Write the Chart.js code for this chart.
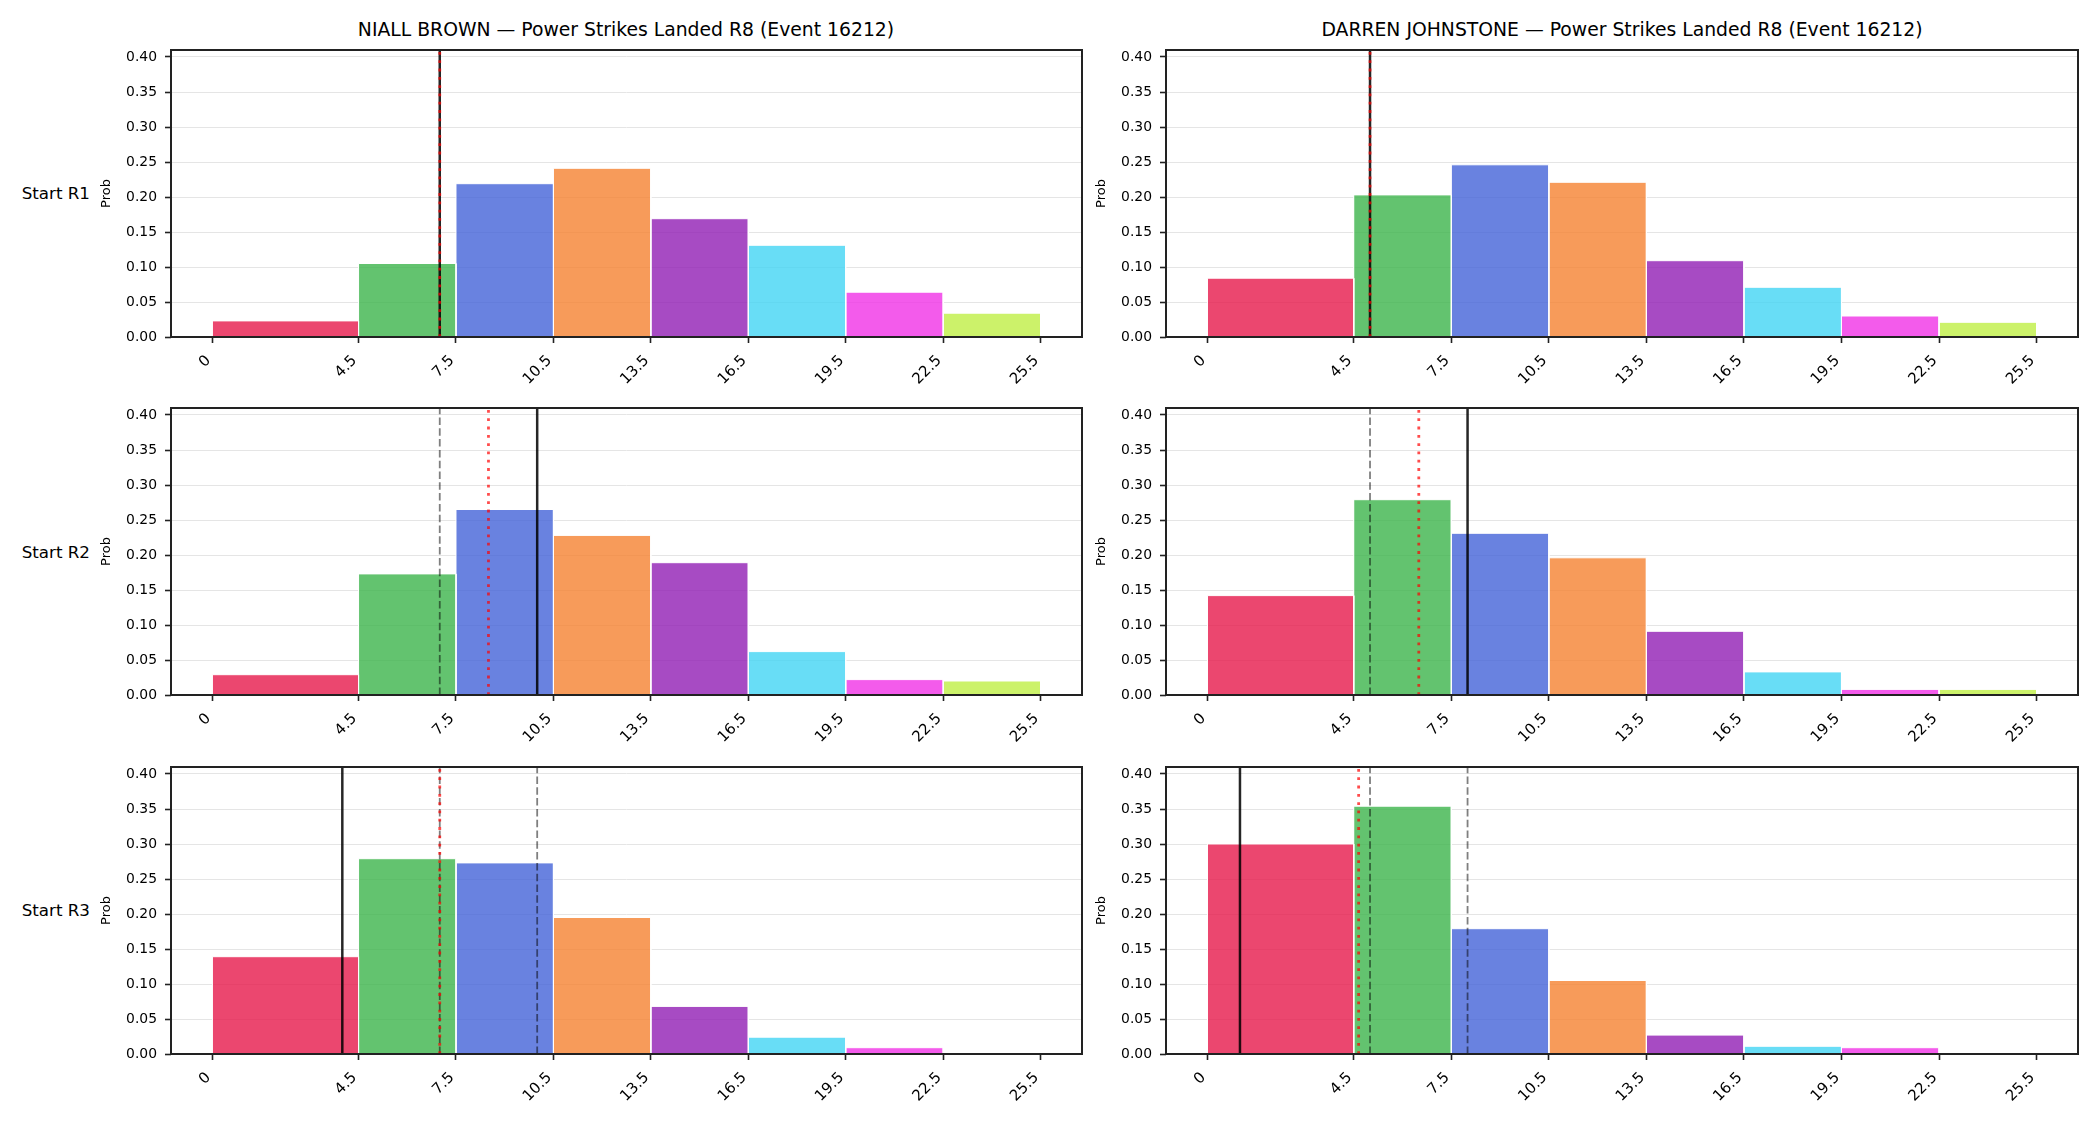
<!DOCTYPE html>
<html lang="en">
<head>
<meta charset="UTF-8">
<title>Power Strikes Landed R8 (Event 16212)</title>
<script src="https://cdn.jsdelivr.net/npm/chart.js"></script>
<style>
    body {
        margin: 0;
        width: 2100px;
        height: 1125px;
        background: #fff;
        position: relative;
        overflow: hidden;
        font-family: 'DejaVu Sans', sans-serif;
        color: #000;
    }
    canvas { position: absolute; }
    .title {
        position: absolute;
        top: 19px;
        font-size: 18.8px;
        line-height: 22px;
        white-space: nowrap;
        transform: translateX(-50%);
    }
    .rowlabel {
        position: absolute;
        left: 0;
        width: 90px;
        text-align: right;
        font-size: 16.7px;
        line-height: 20px;
        white-space: nowrap;
    }
</style>
</head>
<body>
<div class="title" style="left:626px">NIALL BROWN — Power Strikes Landed R8 (Event 16212)</div>
<div class="title" style="left:1622px">DARREN JOHNSTONE — Power Strikes Landed R8 (Event 16212)</div>
<div class="rowlabel" style="top:183px">Start R1</div>
<div class="rowlabel" style="top:542px">Start R2</div>
<div class="rowlabel" style="top:900px">Start R3</div>

<script>
// bin edges / tick labels
const binEdges = [0, 4.5, 7.5, 10.5, 13.5, 16.5, 19.5, 22.5, 25.5];
const yTicks = [0, 0.05, 0.10, 0.15, 0.20, 0.25, 0.30, 0.35, 0.40];

// probabilities per bin
const niallR1  = [0.023, 0.105, 0.219, 0.241, 0.169, 0.131, 0.064, 0.034];
const niallR2  = [0.029, 0.173, 0.265, 0.228, 0.189, 0.062, 0.022, 0.020];
const niallR3  = [0.139, 0.279, 0.273, 0.195, 0.068, 0.024, 0.009, 0.000];
const darrenR1 = [0.084, 0.203, 0.246, 0.221, 0.109, 0.071, 0.030, 0.021];
const darrenR2 = [0.142, 0.279, 0.231, 0.196, 0.091, 0.033, 0.008, 0.008];
const darrenR3 = [0.300, 0.354, 0.179, 0.105, 0.027, 0.011, 0.009, 0.000];

// market line per round (black), running mean of lines (red dotted)
const niallLine  = [7.0, 10.0, 4.0];
const niallMean  = [7.0, 8.5, 7.0];
const darrenLine = [5.0, 8.0, 1.0];
const darrenMean = [5.0, 6.5, 4.65];

const binColors = [
    'rgba(230,25,75,0.8)', 'rgba(60,180,75,0.8)', 'rgba(67,99,216,0.8)', 'rgba(245,130,49,0.8)',
    'rgba(145,30,180,0.8)', 'rgba(66,212,244,0.8)', 'rgba(240,50,230,0.8)', 'rgba(191,239,69,0.8)'
];

// layout
const X_MIN = -1.275, X_MAX = 26.775, Y_MAX = 0.41;
const colLeft = [171, 1166];
const colRight = [1082, 2078];
const rowTop = [50, 408, 767];
const AXH = 287, YAXIS_W = 76, XAXIS_H = 62, PAD_T = 18, PAD_R = 8;

Chart.defaults.font.family = "'DejaVu Sans', sans-serif";
Chart.defaults.color = '#000';

const frame = {
    id: 'frame',
    afterDatasetsDraw(chart) {
        const { ctx, chartArea: a } = chart;
        ctx.save();
        ctx.strokeStyle = '#222';
        ctx.lineWidth = 2;
        ctx.strokeRect(a.left, a.top, a.right - a.left, a.bottom - a.top);
        ctx.restore();
    }
};

function barSets(probs) {
    return probs.map((p, i) => ({
        data: [
            { x: binEdges[i], y: 0 }, { x: binEdges[i], y: p },
            { x: binEdges[i + 1], y: p }, { x: binEdges[i + 1], y: 0 }
        ],
        backgroundColor: binColors[i],
        borderColor: '#fff',
        borderWidth: 1,
        fill: 'origin',
        order: 3
    }));
}

function vline(x, style) {
    return Object.assign({
        data: [{ x: x, y: 0 }, { x: x, y: Y_MAX }],
        fill: false,
        borderCapStyle: 'butt'
    }, style);
}

const solid  = { borderColor: 'rgba(0,0,0,0.85)', borderWidth: 2.5, order: 1 };
const dashed = { borderColor: 'rgba(0,0,0,0.5)', borderWidth: 1.8, borderDash: [7.5, 3.3], order: 2 };
const dotted = { borderColor: 'rgba(255,0,0,0.7)', borderWidth: 2.8, borderDash: [2.8, 5.5], order: 0 };

function makePanel(col, row, probs, lines, means) {
    const left = colLeft[col] - YAXIS_W;
    const width = colRight[col] - left + PAD_R;
    const top = rowTop[row] - PAD_T;
    const height = PAD_T + AXH + XAXIS_H;

    const canvas = document.createElement('canvas');
    canvas.width = width;
    canvas.height = height;
    canvas.style.left = left + 'px';
    canvas.style.top = top + 'px';
    canvas.style.width = width + 'px';
    canvas.style.height = height + 'px';
    document.body.appendChild(canvas);

    const datasets = barSets(probs);
    for (let k = 0; k < row; k++) datasets.push(vline(lines[k], dashed));
    datasets.push(vline(lines[row], solid));
    datasets.push(vline(means[row], dotted));

    new Chart(canvas.getContext('2d'), {
        type: 'line',
        data: { datasets: datasets },
        plugins: [frame],
        options: {
            responsive: false,
            animation: false,
            devicePixelRatio: 1,
            layout: { padding: { top: PAD_T, right: PAD_R, left: 0, bottom: 0 } },
            elements: { point: { radius: 0 }, line: { tension: 0 } },
            plugins: { legend: { display: false }, tooltip: { enabled: false } },
            scales: {
                x: {
                    type: 'linear',
                    min: X_MIN,
                    max: X_MAX,
                    afterBuildTicks: s => { s.ticks = binEdges.map(v => ({ value: v })); },
                    afterFit: s => { s.height = XAXIS_H; },
                    ticks: {
                        autoSkip: false, minRotation: 45, maxRotation: 45, padding: 9, labelOffset: -4,
                        font: { size: 15 }, callback: v => String(v)
                    },
                    grid: { drawOnChartArea: false, tickLength: 6, tickColor: '#222', tickWidth: 1.6 },
                    border: { display: false }
                },
                y: {
                    type: 'linear',
                    min: 0,
                    max: Y_MAX,
                    afterBuildTicks: s => { s.ticks = yTicks.map(v => ({ value: v })); },
                    afterFit: s => { s.width = YAXIS_W; },
                    ticks: { padding: 8, font: { size: 13.9 }, callback: v => v.toFixed(2) },
                    grid: { color: '#e5e5e5', lineWidth: 1, tickLength: 6, tickColor: '#222', tickWidth: 1.6 },
                    border: { display: false },
                    title: { display: true, text: 'Prob', font: { size: 13 }, padding: { top: 4, bottom: 4 } }
                }
            }
        }
    });
}

makePanel(0, 0, niallR1, niallLine, niallMean);
makePanel(0, 1, niallR2, niallLine, niallMean);
makePanel(0, 2, niallR3, niallLine, niallMean);
makePanel(1, 0, darrenR1, darrenLine, darrenMean);
makePanel(1, 1, darrenR2, darrenLine, darrenMean);
makePanel(1, 2, darrenR3, darrenLine, darrenMean);
</script>
</body>
</html>
